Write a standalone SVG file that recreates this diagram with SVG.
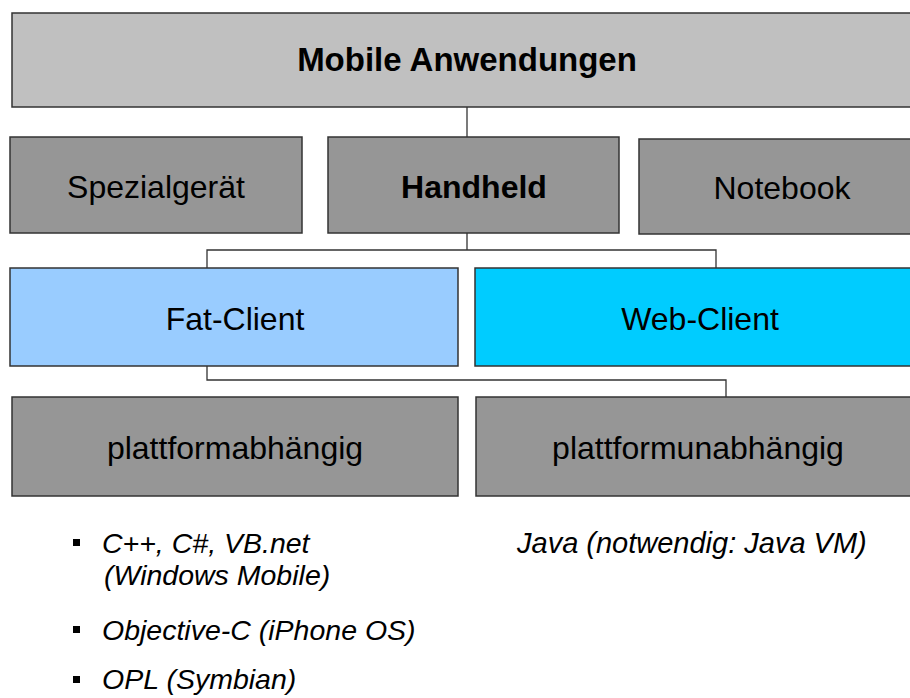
<svg xmlns="http://www.w3.org/2000/svg" width="910" height="698" viewBox="0 0 910 698">
<style>
.box{stroke:#333;stroke-width:1.5}
.g1{fill:#c0c0c0}.g2{fill:#969696}
.t{font-family:"Liberation Sans",Arial,sans-serif;font-size:32px;fill:#000;text-anchor:middle}
.b{font-weight:bold}
.it{font-family:"Liberation Sans",Arial,sans-serif;font-size:28.5px;font-style:italic;fill:#000}
.c{fill:none;stroke:#333;stroke-width:1.3}
</style>
<rect width="910" height="698" fill="#fff"/>
<g id="connectors">
<path class="c" d="M467 107V137"/>
<path class="c" d="M467 233V250M207 268V250H716V268"/>
<path class="c" d="M207 366V380H726V397"/>
</g>
<g id="mobile"><rect class="box g1" x="12" y="13" width="910" height="94"/><text class="t b" x="467" y="71" style="font-size:33px">Mobile Anwendungen</text></g>
<g id="spezial"><rect class="box g2" x="10" y="137" width="292" height="96"/><text class="t" x="156" y="198">Spezialgerät</text></g>
<g id="handheld"><rect class="box g2" x="328" y="137" width="291" height="96"/><text class="t b" x="474" y="198">Handheld</text></g>
<g id="notebook"><rect class="box g2" x="639" y="139" width="290" height="95"/><text class="t" x="782" y="199">Notebook</text></g>
<g id="fat"><rect class="box" fill="#99ccff" x="10" y="268" width="448" height="98"/><text class="t" x="235" y="330">Fat-Client</text></g>
<g id="web"><rect class="box" fill="#00ccff" x="475" y="268" width="450" height="98"/><text class="t" x="700" y="330">Web-Client</text></g>
<g id="pabh"><rect class="box g2" x="12" y="397" width="446" height="99"/><text class="t" x="235" y="459">plattformabhängig</text></g>
<g id="punabh"><rect class="box g2" x="476" y="397" width="450" height="99"/><text class="t" x="698" y="459">plattformunabhängig</text></g>
<g id="notes">
<rect x="73" y="539" width="7" height="7" fill="#000"/>
<rect x="73" y="626" width="7" height="7" fill="#000"/>
<rect x="73" y="676" width="7" height="7" fill="#000"/>
<text class="it" x="102" y="553">C++, C#, VB.net</text>
<text class="it" x="104" y="585">(Windows Mobile)</text>
<text class="it" x="102" y="640">Objective-C (iPhone OS)</text>
<text class="it" x="102" y="689">OPL (Symbian)</text>
<text class="it" x="517" y="553" style="font-size:29px">Java (notwendig: Java VM)</text>
</g>
</svg>
